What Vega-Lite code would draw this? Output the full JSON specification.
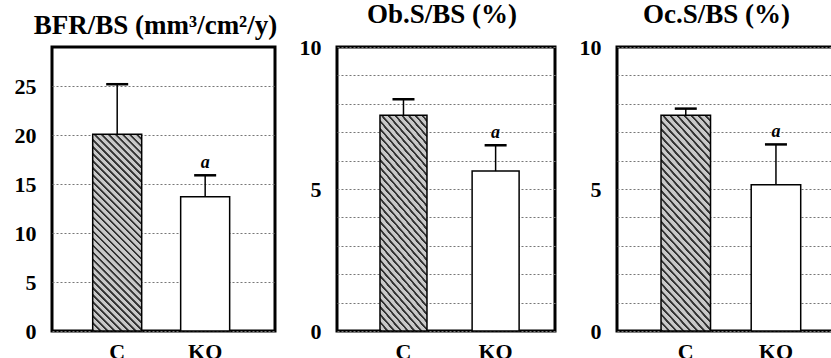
{
  "$schema": "https://vega.github.io/schema/vega-lite/v6.json",
  "padding": {"left": 12, "top": -1, "right": 0, "bottom": 0},
  "background": "white",
  "bounds": "flush",
  "spacing": 62,
  "datasets": {
    "d": [
      {"panel": "BFR", "group": "C", "mean": 20.1, "upper": 25.2, "sig": ""},
      {"panel": "BFR", "group": "KO", "mean": 13.7, "upper": 15.9, "sig": "a"},
      {"panel": "Ob", "group": "C", "mean": 7.6, "upper": 8.16, "sig": ""},
      {"panel": "Ob", "group": "KO", "mean": 5.63, "upper": 6.54, "sig": "a"},
      {"panel": "Oc", "group": "C", "mean": 7.6, "upper": 7.83, "sig": ""},
      {"panel": "Oc", "group": "KO", "mean": 5.15, "upper": 6.57, "sig": "a"}
    ]
  },
  "config": {
    "font": "Liberation Serif",
    "view": {"stroke": "black", "strokeWidth": 3},
    "axis": {"labelFont": "Liberation Serif", "labelFontSize": 22, "labelFontWeight": "bold", "labelColor": "black", "domain": false, "ticks": false, "labelOverlap": false},
    "axisY": {"grid": true, "gridColor": "#777", "gridDash": [2, 2], "gridWidth": 1, "labelPadding": 16},
    "axisX": {"grid": false, "labelAngle": 0, "labelPadding": 10},
    "title": {"font": "Liberation Serif", "fontSize": 27, "fontWeight": "bold", "color": "black", "offset": 10, "dy": 3, "anchor": "middle"},
    "bar": {
        "stroke": "black",
        "strokeWidth": 1.5,
        "fill": {
          "gradient": "linear", "x1": 0, "y1": 1, "x2": 0.295, "y2": -0.18,
          "stops": [
            {"offset": 0, "color": "#333"}, {"offset": 0.0071, "color": "#333"}, {"offset": 0.0114, "color": "#c8c8c8"}, {"offset": 0.0271, "color": "#c8c8c8"},
            {"offset": 0.0286, "color": "#333"}, {"offset": 0.0357, "color": "#333"}, {"offset": 0.04, "color": "#c8c8c8"}, {"offset": 0.0557, "color": "#c8c8c8"},
            {"offset": 0.0571, "color": "#333"}, {"offset": 0.0643, "color": "#333"}, {"offset": 0.0686, "color": "#c8c8c8"}, {"offset": 0.0843, "color": "#c8c8c8"},
            {"offset": 0.0857, "color": "#333"}, {"offset": 0.0929, "color": "#333"}, {"offset": 0.0971, "color": "#c8c8c8"}, {"offset": 0.1129, "color": "#c8c8c8"},
            {"offset": 0.1143, "color": "#333"}, {"offset": 0.1214, "color": "#333"}, {"offset": 0.1257, "color": "#c8c8c8"}, {"offset": 0.1414, "color": "#c8c8c8"},
            {"offset": 0.1429, "color": "#333"}, {"offset": 0.15, "color": "#333"}, {"offset": 0.1543, "color": "#c8c8c8"}, {"offset": 0.17, "color": "#c8c8c8"},
            {"offset": 0.1714, "color": "#333"}, {"offset": 0.1786, "color": "#333"}, {"offset": 0.1829, "color": "#c8c8c8"}, {"offset": 0.1986, "color": "#c8c8c8"},
            {"offset": 0.2, "color": "#333"}, {"offset": 0.2071, "color": "#333"}, {"offset": 0.2114, "color": "#c8c8c8"}, {"offset": 0.2271, "color": "#c8c8c8"},
            {"offset": 0.2286, "color": "#333"}, {"offset": 0.2357, "color": "#333"}, {"offset": 0.24, "color": "#c8c8c8"}, {"offset": 0.2557, "color": "#c8c8c8"},
            {"offset": 0.2571, "color": "#333"}, {"offset": 0.2643, "color": "#333"}, {"offset": 0.2686, "color": "#c8c8c8"}, {"offset": 0.2843, "color": "#c8c8c8"},
            {"offset": 0.2857, "color": "#333"}, {"offset": 0.2929, "color": "#333"}, {"offset": 0.2971, "color": "#c8c8c8"}, {"offset": 0.3129, "color": "#c8c8c8"},
            {"offset": 0.3143, "color": "#333"}, {"offset": 0.3214, "color": "#333"}, {"offset": 0.3257, "color": "#c8c8c8"}, {"offset": 0.3414, "color": "#c8c8c8"},
            {"offset": 0.3429, "color": "#333"}, {"offset": 0.35, "color": "#333"}, {"offset": 0.3543, "color": "#c8c8c8"}, {"offset": 0.37, "color": "#c8c8c8"},
            {"offset": 0.3714, "color": "#333"}, {"offset": 0.3786, "color": "#333"}, {"offset": 0.3829, "color": "#c8c8c8"}, {"offset": 0.3986, "color": "#c8c8c8"},
            {"offset": 0.4, "color": "#333"}, {"offset": 0.4071, "color": "#333"}, {"offset": 0.4114, "color": "#c8c8c8"}, {"offset": 0.4271, "color": "#c8c8c8"},
            {"offset": 0.4286, "color": "#333"}, {"offset": 0.4357, "color": "#333"}, {"offset": 0.44, "color": "#c8c8c8"}, {"offset": 0.4557, "color": "#c8c8c8"},
            {"offset": 0.4571, "color": "#333"}, {"offset": 0.4643, "color": "#333"}, {"offset": 0.4686, "color": "#c8c8c8"}, {"offset": 0.4843, "color": "#c8c8c8"},
            {"offset": 0.4857, "color": "#333"}, {"offset": 0.4929, "color": "#333"}, {"offset": 0.4971, "color": "#c8c8c8"}, {"offset": 0.5129, "color": "#c8c8c8"},
            {"offset": 0.5143, "color": "#333"}, {"offset": 0.5214, "color": "#333"}, {"offset": 0.5257, "color": "#c8c8c8"}, {"offset": 0.5414, "color": "#c8c8c8"},
            {"offset": 0.5429, "color": "#333"}, {"offset": 0.55, "color": "#333"}, {"offset": 0.5543, "color": "#c8c8c8"}, {"offset": 0.57, "color": "#c8c8c8"},
            {"offset": 0.5714, "color": "#333"}, {"offset": 0.5786, "color": "#333"}, {"offset": 0.5829, "color": "#c8c8c8"}, {"offset": 0.5986, "color": "#c8c8c8"},
            {"offset": 0.6, "color": "#333"}, {"offset": 0.6071, "color": "#333"}, {"offset": 0.6114, "color": "#c8c8c8"}, {"offset": 0.6271, "color": "#c8c8c8"},
            {"offset": 0.6286, "color": "#333"}, {"offset": 0.6357, "color": "#333"}, {"offset": 0.64, "color": "#c8c8c8"}, {"offset": 0.6557, "color": "#c8c8c8"},
            {"offset": 0.6571, "color": "#333"}, {"offset": 0.6643, "color": "#333"}, {"offset": 0.6686, "color": "#c8c8c8"}, {"offset": 0.6843, "color": "#c8c8c8"},
            {"offset": 0.6857, "color": "#333"}, {"offset": 0.6929, "color": "#333"}, {"offset": 0.6971, "color": "#c8c8c8"}, {"offset": 0.7129, "color": "#c8c8c8"},
            {"offset": 0.7143, "color": "#333"}, {"offset": 0.7214, "color": "#333"}, {"offset": 0.7257, "color": "#c8c8c8"}, {"offset": 0.7414, "color": "#c8c8c8"},
            {"offset": 0.7429, "color": "#333"}, {"offset": 0.75, "color": "#333"}, {"offset": 0.7543, "color": "#c8c8c8"}, {"offset": 0.77, "color": "#c8c8c8"},
            {"offset": 0.7714, "color": "#333"}, {"offset": 0.7786, "color": "#333"}, {"offset": 0.7829, "color": "#c8c8c8"}, {"offset": 0.7986, "color": "#c8c8c8"},
            {"offset": 0.8, "color": "#333"}, {"offset": 0.8071, "color": "#333"}, {"offset": 0.8114, "color": "#c8c8c8"}, {"offset": 0.8271, "color": "#c8c8c8"},
            {"offset": 0.8286, "color": "#333"}, {"offset": 0.8357, "color": "#333"}, {"offset": 0.84, "color": "#c8c8c8"}, {"offset": 0.8557, "color": "#c8c8c8"},
            {"offset": 0.8571, "color": "#333"}, {"offset": 0.8643, "color": "#333"}, {"offset": 0.8686, "color": "#c8c8c8"}, {"offset": 0.8843, "color": "#c8c8c8"},
            {"offset": 0.8857, "color": "#333"}, {"offset": 0.8929, "color": "#333"}, {"offset": 0.8971, "color": "#c8c8c8"}, {"offset": 0.9129, "color": "#c8c8c8"},
            {"offset": 0.9143, "color": "#333"}, {"offset": 0.9214, "color": "#333"}, {"offset": 0.9257, "color": "#c8c8c8"}, {"offset": 0.9414, "color": "#c8c8c8"},
            {"offset": 0.9429, "color": "#333"}, {"offset": 0.95, "color": "#333"}, {"offset": 0.9543, "color": "#c8c8c8"}, {"offset": 0.97, "color": "#c8c8c8"},
            {"offset": 0.9714, "color": "#333"}, {"offset": 0.9786, "color": "#333"}, {"offset": 0.9829, "color": "#c8c8c8"}, {"offset": 0.9986, "color": "#c8c8c8"},
            {"offset": 1, "color": "#333"}
          ]
        }
    }
  },
  "hconcat": [
    {
      "width": 223, "height": 284,
      "title": {"text": "BFR/BS (mm³/cm²/y)", "dx": -8},
      "data": {"name": "d"},
      "transform": [{"filter": "datum.panel === 'BFR'"}],
      "encoding": {
        "x": {"field": "group", "type": "nominal", "sort": ["C", "KO"], "title": null,
              "scale": {"paddingInner": 0.443, "paddingOuter": 0.489, "align": 0.473}}
      },
      "layer": [
        {"transform": [{"filter": "datum.group === 'C'"}], "mark": {"type": "bar"},
         "encoding": {"y": {"field": "mean", "type": "quantitative", "scale": {"domain": [0, 29], "nice": false}, "axis": {"values": [0, 5, 10, 15, 20, 25], "title": null}}}},
        {"transform": [{"filter": "datum.group === 'KO'"}], "mark": {"type": "bar", "fill": "white", "stroke": "black", "strokeWidth": 1.5},
         "encoding": {"y": {"field": "mean", "type": "quantitative", "axis": {"values": [0, 5, 10, 15, 20, 25], "title": null}}}},
        {"mark": {"type": "rule", "color": "black", "strokeWidth": 1.5},
         "encoding": {"y": {"field": "mean", "type": "quantitative", "axis": {"values": [0, 5, 10, 15, 20, 25], "title": null}}, "y2": {"field": "upper"}}},
        {"mark": {"type": "tick", "color": "black", "size": 22, "thickness": 2.5, "opacity": 1},
         "encoding": {"y": {"field": "upper", "type": "quantitative", "axis": {"values": [0, 5, 10, 15, 20, 25], "title": null}}}},
        {"mark": {"type": "text", "font": "Liberation Serif", "fontSize": 18, "fontStyle": "italic", "fontWeight": "bold", "baseline": "alphabetic", "dy": -7, "color": "black"},
         "encoding": {"y": {"field": "upper", "type": "quantitative", "axis": {"values": [0, 5, 10, 15, 20, 25], "title": null}}, "text": {"field": "sig"}}}
      ]
    },
    {
      "width": 218, "height": 284,
      "title": {"text": "Ob.S/BS (%)", "dx": -4},
      "data": {"name": "d"},
      "transform": [{"filter": "datum.panel === 'Ob'"}],
      "encoding": {
        "x": {"field": "group", "type": "nominal", "sort": ["C", "KO"], "title": null,
              "scale": {"paddingInner": 0.49, "paddingOuter": 0.428, "align": 0.545}}
      },
      "layer": [
        {"transform": [{"filter": "datum.group === 'C'"}], "mark": {"type": "bar"},
         "encoding": {"y": {"field": "mean", "type": "quantitative", "scale": {"domain": [0, 10], "nice": false}, "axis": {"values": [0, 1, 2, 3, 4, 5, 6, 7, 8, 9, 10], "labelExpr": "datum.value % 5 === 0 ? datum.label : ''", "title": null}}}},
        {"transform": [{"filter": "datum.group === 'KO'"}], "mark": {"type": "bar", "fill": "white", "stroke": "black", "strokeWidth": 1.5},
         "encoding": {"y": {"field": "mean", "type": "quantitative", "axis": {"values": [0, 1, 2, 3, 4, 5, 6, 7, 8, 9, 10], "labelExpr": "datum.value % 5 === 0 ? datum.label : ''", "title": null}}}},
        {"mark": {"type": "rule", "color": "black", "strokeWidth": 1.5},
         "encoding": {"y": {"field": "mean", "type": "quantitative", "axis": {"values": [0, 1, 2, 3, 4, 5, 6, 7, 8, 9, 10], "labelExpr": "datum.value % 5 === 0 ? datum.label : ''", "title": null}}, "y2": {"field": "upper"}}},
        {"mark": {"type": "tick", "color": "black", "size": 22, "thickness": 2.5, "opacity": 1},
         "encoding": {"y": {"field": "upper", "type": "quantitative", "axis": {"values": [0, 1, 2, 3, 4, 5, 6, 7, 8, 9, 10], "labelExpr": "datum.value % 5 === 0 ? datum.label : ''", "title": null}}}},
        {"mark": {"type": "text", "font": "Liberation Serif", "fontSize": 18, "fontStyle": "italic", "fontWeight": "bold", "baseline": "alphabetic", "dy": -7, "color": "black"},
         "encoding": {"y": {"field": "upper", "type": "quantitative", "axis": {"values": [0, 1, 2, 3, 4, 5, 6, 7, 8, 9, 10], "labelExpr": "datum.value % 5 === 0 ? datum.label : ''", "title": null}}, "text": {"field": "sig"}}}
      ]
    },
    {
      "width": 225, "height": 284,
      "title": {"text": "Oc.S/BS (%)", "dx": -13},
      "data": {"name": "d"},
      "transform": [{"filter": "datum.panel === 'Oc'"}],
      "encoding": {
        "x": {"field": "group", "type": "nominal", "sort": ["C", "KO"], "title": null,
              "scale": {"paddingInner": 0.451, "paddingOuter": 0.473, "align": 0.516}}
      },
      "layer": [
        {"transform": [{"filter": "datum.group === 'C'"}], "mark": {"type": "bar"},
         "encoding": {"y": {"field": "mean", "type": "quantitative", "scale": {"domain": [0, 10], "nice": false}, "axis": {"values": [0, 1, 2, 3, 4, 5, 6, 7, 8, 9, 10], "labelExpr": "datum.value % 5 === 0 ? datum.label : ''", "title": null}}}},
        {"transform": [{"filter": "datum.group === 'KO'"}], "mark": {"type": "bar", "fill": "white", "stroke": "black", "strokeWidth": 1.5},
         "encoding": {"y": {"field": "mean", "type": "quantitative", "axis": {"values": [0, 1, 2, 3, 4, 5, 6, 7, 8, 9, 10], "labelExpr": "datum.value % 5 === 0 ? datum.label : ''", "title": null}}}},
        {"mark": {"type": "rule", "color": "black", "strokeWidth": 1.5},
         "encoding": {"y": {"field": "mean", "type": "quantitative", "axis": {"values": [0, 1, 2, 3, 4, 5, 6, 7, 8, 9, 10], "labelExpr": "datum.value % 5 === 0 ? datum.label : ''", "title": null}}, "y2": {"field": "upper"}}},
        {"mark": {"type": "tick", "color": "black", "size": 22, "thickness": 2.5, "opacity": 1},
         "encoding": {"y": {"field": "upper", "type": "quantitative", "axis": {"values": [0, 1, 2, 3, 4, 5, 6, 7, 8, 9, 10], "labelExpr": "datum.value % 5 === 0 ? datum.label : ''", "title": null}}}},
        {"mark": {"type": "text", "font": "Liberation Serif", "fontSize": 18, "fontStyle": "italic", "fontWeight": "bold", "baseline": "alphabetic", "dy": -7, "color": "black"},
         "encoding": {"y": {"field": "upper", "type": "quantitative", "axis": {"values": [0, 1, 2, 3, 4, 5, 6, 7, 8, 9, 10], "labelExpr": "datum.value % 5 === 0 ? datum.label : ''", "title": null}}, "text": {"field": "sig"}}}
      ]
    }
  ]
}
